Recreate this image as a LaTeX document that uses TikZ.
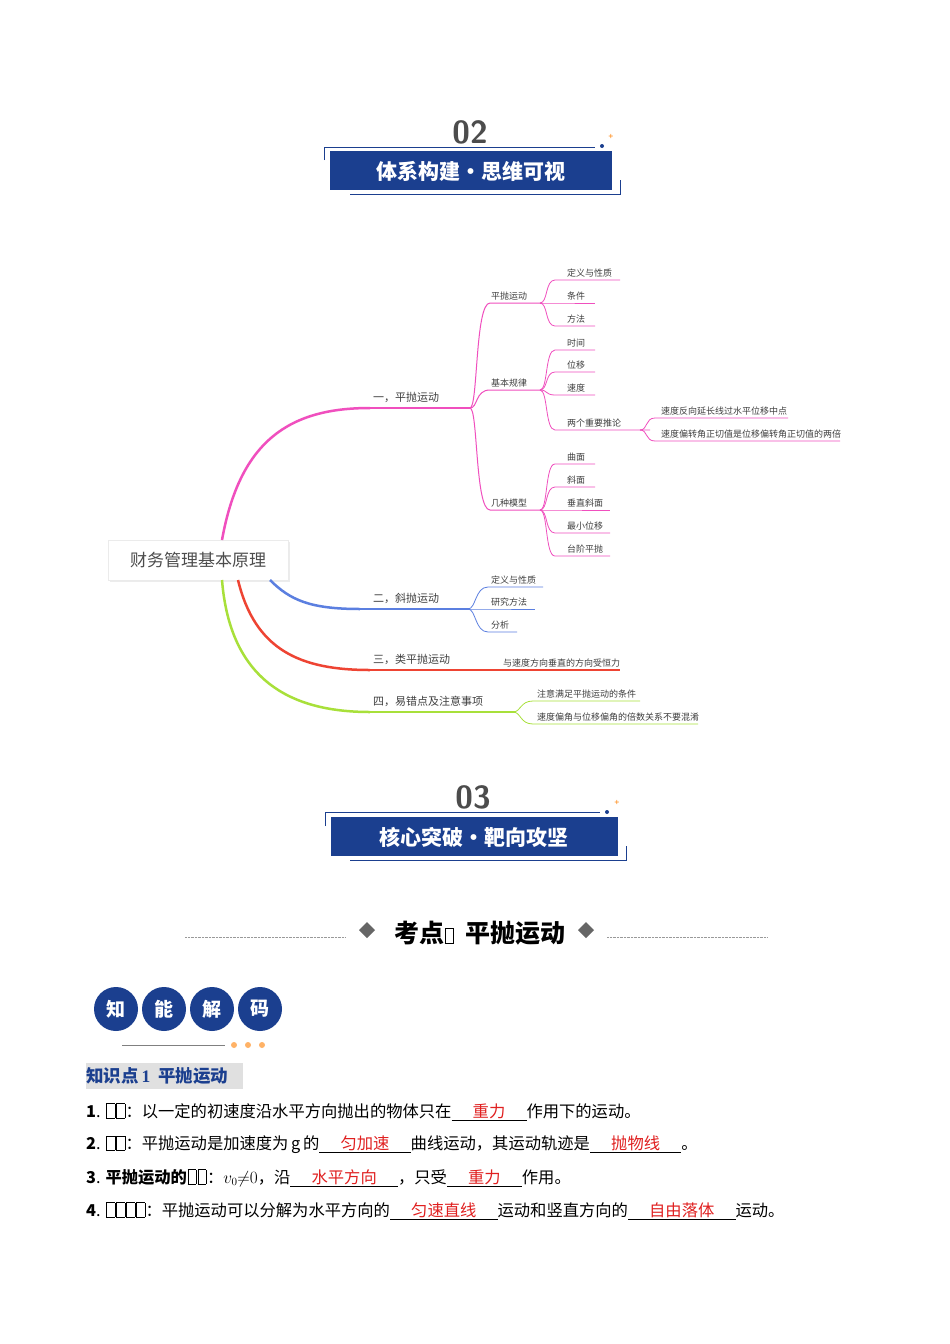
\documentclass[tikz,border=0pt]{standalone}
\usepackage{fontspec}
\setmainfont{Liberation Serif}
\newfontfamily\cjk{Noto Sans CJK SC}
\usetikzlibrary{shadows}
\definecolor{hblue}{HTML}{1B3F8F}
\definecolor{pk}{HTML}{F04FBE}
\definecolor{bl}{HTML}{5B7FE0}
\definecolor{rd}{HTML}{EE4433}
\definecolor{gr}{HTML}{A8E03A}
\definecolor{ans}{HTML}{E02020}
\newcommand{\tofu}{\kern1pt\raisebox{-0.5pt}{\framebox(8,14){}}\kern1pt}
\newcommand{\blank}[1]{\underline{\hspace{1.3em}\textcolor{ans}{#1}\hspace{1.3em}}}
\begin{document}
\begin{tikzpicture}[x=1pt,y=-1pt,
  lf/.style={font=\cjk\fontsize{9}{10}\selectfont,text=black!75,anchor=south west,inner sep=1pt},
  mf/.style={font=\cjk\fontsize{11}{12}\selectfont,text=black!75,anchor=south west,inner sep=1pt},
  body/.style={font=\cjk\fontsize{16.3}{17}\selectfont,anchor=west,inner sep=0pt},
  ban/.style={text=white,font=\cjk\bfseries\fontsize{21}{22}\selectfont},
  num/.style={font=\sffamily\bfseries\fontsize{32}{32}\selectfont,text=black!70},
  circ/.style={circle,fill=hblue,text=white,font=\cjk\bfseries\fontsize{19}{19}\selectfont,minimum size=44pt,inner sep=0pt}]
\useasboundingbox (0,0) rectangle (950,1344);
\fill[white] (0,0) rectangle (950,1344);
% header 02
\node[num] (n02) at (470,132) {02};
\fill[hblue] (330,151) rectangle (612,190);
\node[ban] (h02) at (471,171) {体系构建·思维可视};
\draw[hblue,thick] (324,160) -- (324,147) -- (595,147);
\draw[hblue,thick] (350,194) -- (620,194) -- (620,180);
\fill[hblue] (602,146) circle (2);
\node[text=orange,font=\small\bfseries] (s2) at (611,137) {+};
% mind map root
\node[draw=black!8,fill=white,drop shadow={opacity=0.15},minimum width=180pt,minimum height=40pt,font=\cjk\fontsize{17}{18}\selectfont,text=black!70] (root) at (198,560) {财务管理基本原理};
% pink
\draw[pk,line width=2.5pt] (222,540) .. controls (240,440) and (290,408) .. (370,408);
\draw[pk,line width=1.2pt] (370,408) -- (470,408);
\node[mf] (a1) at (372,404) {一，平抛运动};
\foreach \y/\t in {303/平抛运动,390/基本规律,510/几种模型}{
  \draw[pk,line width=1pt] (470,408) .. controls (478,408) and (475,\y) .. (490,\y) -- (540,\y);
  \node[lf] at (490,\y-2) {\t};}
\foreach \y/\t/\e in {280/定义与性质/620,303/条件/595,326/方法/595}{
  \draw[pk,line width=0.8pt] (540,303) .. controls (548,303) and (545,\y) .. (555,\y) -- (\e,\y);
  \node[lf] at (566,\y-2) {\t};}
\foreach \y/\t/\e in {350/时间/595,372/位移/595,395/速度/595,430/两个重要推论/650}{
  \draw[pk,line width=0.8pt] (540,390) .. controls (548,390) and (545,\y) .. (555,\y) -- (\e,\y);
  \node[lf] at (566,\y-2) {\t};}
\foreach \y/\t/\e in {418/速度反向延长线过水平位移中点/788,441/速度偏转角正切值是位移偏转角正切值的两倍/840}{
  \draw[pk,line width=0.8pt] (640,430) .. controls (648,430) and (645,\y) .. (655,\y) -- (\e,\y);
  \node[lf] at (660,\y-2) {\t};}
\foreach \y/\t/\e in {464/曲面/595,487/斜面/595,510/垂直斜面/610,533/最小位移/610,556/台阶平抛/610}{
  \draw[pk,line width=0.8pt] (540,510) .. controls (548,510) and (545,\y) .. (555,\y) -- (\e,\y);
  \node[lf] at (566,\y-2) {\t};}
% blue
\draw[bl,line width=2.5pt] (270,580) .. controls (290,600) and (310,609) .. (360,609);
\draw[bl,line width=1.2pt] (360,609) -- (470,609);
\node[mf] (b1) at (372,605) {二，斜抛运动};
\foreach \y/\t/\e in {587/定义与性质/543,609/研究方法/535,632/分析/517}{
  \draw[bl,line width=0.8pt] (468,609) .. controls (476,609) and (475,\y) .. (488,\y) -- (\e,\y);
  \node[lf] at (490,\y-2) {\t};}
% red
\draw[rd,line width=2.5pt] (238,580) .. controls (255,650) and (300,670) .. (370,670);
\draw[rd,line width=1.2pt] (370,670) -- (620,670);
\node[mf] (c1) at (372,666) {三，类平抛运动};
\node[lf] (c2) at (502,668) {与速度方向垂直的方向受恒力};
% green
\draw[gr,line width=2.5pt] (222,580) .. controls (230,680) and (290,712) .. (370,712);
\draw[gr,line width=1.2pt] (370,712) -- (515,712);
\node[mf] (d1) at (372,708) {四，易错点及注意事项};
\foreach \y/\t/\e in {701/注意满足平抛运动的条件/640,724/速度偏角与位移偏角的倍数关系不要混淆/698}{
  \draw[gr,line width=0.8pt] (513,712) .. controls (521,712) and (520,\y) .. (533,\y) -- (\e,\y);
  \node[lf] at (536,\y-2) {\t};}
% header 03
\node[num] (n03) at (473,797) {03};
\fill[hblue] (331,817) rectangle (618,856);
\node[ban] (h03) at (474,837) {核心突破·靶向攻坚};
\draw[hblue,thick] (325,826) -- (325,812) -- (600,812);
\draw[hblue,thick] (350,860) -- (626,860) -- (626,846);
\fill[hblue] (607,812) circle (2);
\node[text=orange,font=\small\bfseries] (s4) at (617,803) {+};
% kaodian
\draw[black!40,densely dotted] (185,937) -- (345,937);
\draw[black!40,densely dotted] (607,937) -- (767,937);
\fill[black!60] (367,922) -- (375,930) -- (367,938) -- (359,930) -- cycle;
\fill[black!60] (586,922) -- (594,930) -- (586,938) -- (578,930) -- cycle;
\node[font=\cjk\bfseries\fontsize{25}{26}\selectfont] (kd) at (480,933) {考点\tofu\ \ 平抛运动};
% circles
\foreach \x/\t in {116/知,164/能,212/解,260/码}{
  \node[circ] at (\x,1009) {\t};}
\draw[black!50] (122,1045) -- (225,1045);
\foreach \x in {234,248,262} \fill[orange!60] (\x,1045) circle (3);
% knowledge point
\fill[black!12] (86,1063) rectangle (243,1089);
\node[body,font=\cjk\bfseries\fontsize{17.5}{18}\selectfont,text=hblue] (kp) at (86,1076) {知识点\,\textrm{1}\ \ 平抛运动};
\node[body] (l1) at (86,1112) {\textbf{1}. \tofu\tofu：以一定的初速度沿水平方向抛出的物体只在\blank{重力}作用下的运动。};
\node[body] (l2) at (86,1145) {\textbf{2}. \tofu\tofu：平抛运动是加速度为\,\textit{g}\,的\blank{匀加速}曲线运动，其运动轨迹是\blank{抛物线}。};
\node[body] (l3) at (86,1178) {\textbf{3}. \textbf{平抛运动的}\tofu\tofu：$v_0{\neq}0$，沿\blank{水平方向}，只受\blank{重力}作用。};
\node[body] (l4) at (86,1211) {\textbf{4}. \tofu\tofu\tofu\tofu：平抛运动可以分解为水平方向的\blank{匀速直线}运动和竖直方向的\blank{自由落体}运动。};
\end{tikzpicture}
\end{document}
